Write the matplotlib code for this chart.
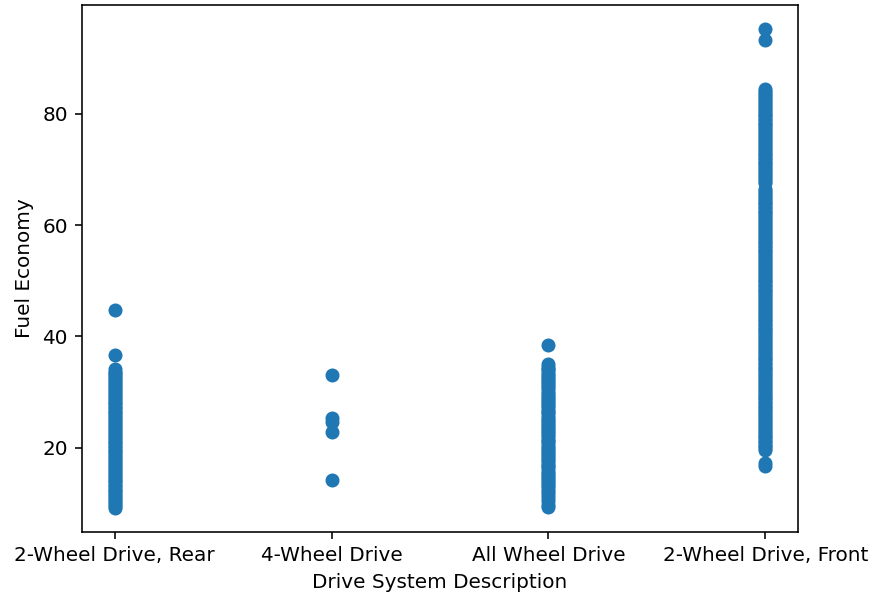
import matplotlib
matplotlib.use("Agg")
import matplotlib.pyplot as plt

categories = ["2-Wheel Drive, Rear", "4-Wheel Drive", "All Wheel Drive", "2-Wheel Drive, Front"]

rear_values = [9.2, 9.5, 9.9, 10.2, 10.6, 11.0, 11.3, 11.7, 12.0, 12.4, 12.7, 13.1,
               13.4, 13.8, 14.1, 14.5, 14.8, 15.2, 15.5, 15.9, 16.2, 16.6, 16.9, 17.3,
               17.6, 18.0, 18.3, 18.7, 19.0, 19.4, 19.7, 20.1, 20.4, 20.8, 21.1, 21.5,
               21.8, 22.2, 22.5, 22.9, 23.2, 23.6, 23.9, 24.3, 24.6, 25.0, 25.3, 25.7,
               26.0, 26.4, 26.7, 27.1, 27.4, 27.8, 28.1, 28.5, 28.8, 29.2, 29.5, 29.9,
               30.2, 30.6, 30.9, 31.3, 31.6, 32.0, 32.3, 32.7, 33.0, 33.4, 33.7, 34.2,
               36.6, 44.8]
fwd4_values = [14.3, 22.9, 24.6, 25.3, 33.0]
awd_values = [9.3, 9.8, 10.4, 11.0, 11.6, 12.1, 12.5, 12.9, 13.3, 13.7, 14.0, 14.4,
              14.8, 15.2, 15.5, 15.9, 16.3, 16.7, 17.0, 17.4, 17.8, 18.2, 18.5, 18.9,
              19.3, 19.7, 20.0, 20.4, 20.8, 21.2, 21.5, 21.9, 22.3, 22.7, 23.0, 23.4,
              23.8, 24.1, 24.4, 24.8, 25.2, 25.6, 26.0, 26.4, 26.7, 27.1, 27.5, 27.9,
              28.2, 28.6, 29.0, 29.4, 29.7, 30.1, 30.5, 30.9, 31.2, 31.6, 32.0, 32.4,
              32.7, 33.1, 33.5, 33.9, 34.2, 34.6, 35.0, 38.4]
front_values = [16.7, 17.2, 19.6, 19.9, 20.3, 20.6, 21.0, 21.3, 21.7, 22.0, 22.4, 22.7,
                23.1, 23.4, 23.8, 24.1, 24.5, 24.8, 25.2, 25.5, 25.9, 26.2, 26.6, 26.9,
                27.3, 27.6, 28.0, 28.3, 28.7, 29.0, 29.4, 29.7, 30.1, 30.4, 30.8, 31.1,
                31.5, 31.8, 32.2, 32.5, 32.9, 33.2, 33.6, 33.9, 34.3, 34.6, 35.0, 35.3,
                35.7, 36.0, 36.4, 36.7, 37.1, 37.4, 37.8, 38.1, 38.5, 38.8, 39.2, 39.5,
                39.9, 40.2, 40.6, 40.9, 41.3, 41.6, 42.0, 42.3, 42.7, 43.0, 43.4, 43.7,
                44.1, 44.4, 44.8, 45.1, 45.5, 45.8, 46.2, 46.5, 46.9, 47.2, 47.6, 47.9,
                48.3, 48.6, 49.0, 49.3, 49.7, 50.0, 50.4, 50.7, 51.1, 51.4, 51.8, 52.1,
                52.5, 52.8, 53.2, 53.5, 53.9, 54.2, 54.6, 54.9, 55.3, 55.6, 56.0, 56.3,
                56.7, 57.0, 57.4, 57.7, 58.1, 58.4, 58.8, 59.1, 59.5, 59.8, 60.2, 60.5,
                60.9, 61.2, 61.6, 61.9, 62.3, 62.6, 63.0, 63.3, 63.7, 64.0, 64.4, 64.7,
                65.1, 65.4, 65.8, 66.1, 66.5, 67.6, 67.9, 68.3, 68.6, 69.0, 69.3, 69.7,
                70.0, 70.4, 70.7, 71.1, 71.4, 71.8, 72.1, 72.5, 72.8, 73.2, 73.5, 73.9,
                74.2, 74.6, 74.9, 75.3, 75.6, 76.0, 76.3, 76.7, 77.0, 77.4, 77.7, 78.1,
                78.4, 78.8, 79.1, 79.5, 79.8, 80.2, 80.5, 80.9, 81.2, 81.6, 81.9, 82.3,
                82.6, 83.0, 83.3, 83.7, 84.0, 84.4, 93.2, 95.2]

series = [rear_values, fwd4_values, awd_values, front_values]

W, H = 872, 598
DPI = 144
fig = plt.figure(figsize=(W / DPI, H / DPI), dpi=DPI)
ax = fig.add_axes([82 / W, 1 - 532 / H, (798 - 82) / W, (532 - 5) / H])

xs, ys = [], []
for cat, vals in zip(categories, series):
    xs.extend([cat] * len(vals))
    ys.extend(vals)
ax.scatter(xs, ys)

ax.set_xlabel("Drive System Description")
ax.set_ylabel("Fuel Economy")

fig.savefig("out.png", dpi=DPI)
